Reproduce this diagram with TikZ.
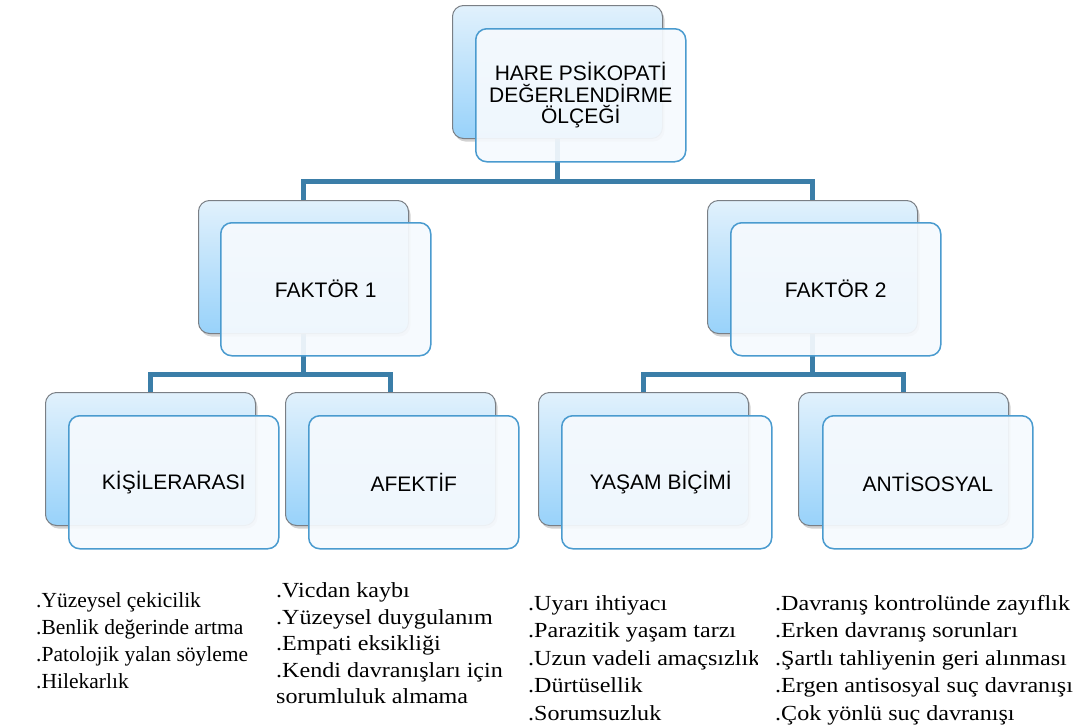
\documentclass[tikz,border=0pt]{standalone}
\usepackage{fontspec}
\setmainfont{Liberation Serif}
\newfontfamily\arialf{Liberation Sans}
\newfontfamily\stretchf[FakeStretch=1.12]{Liberation Serif}
\usetikzlibrary{shadows}
\pgfdeclarelayer{bg}
\pgfsetlayers{bg,main}
\definecolor{backtop}{HTML}{E1F1FC}
\definecolor{backbot}{HTML}{98D2FA}
\definecolor{backedge}{HTML}{7A7F85}
\definecolor{frontfill}{HTML}{F6FAFE}
\definecolor{frontedge}{HTML}{4A9BCF}
\definecolor{connc}{HTML}{3B7EA8}
\tikzset{
  backbox/.style={rectangle, rounded corners=11pt, minimum width=210pt, minimum height=133pt,
    top color=backtop, bottom color=backbot, draw=backedge, line width=1pt, anchor=north west,
    drop shadow={shadow xshift=2pt, shadow yshift=-3pt, opacity=0.35}},
  frontbox/.style={rectangle, rounded corners=11pt, minimum width=210pt, minimum height=133pt,
    fill=frontfill, fill opacity=0.92, text opacity=1, draw=frontedge, line width=1.5pt,
    anchor=north west, font=\arialf\fontsize{21}{21.5}\selectfont, align=center, inner sep=0pt},
  conn/.style={draw=connc, line width=5pt},
  item/.style={anchor=base west, inner sep=0pt, font=\fontsize{21.5}{26}\selectfont},
  itemw/.style={anchor=base west, inner sep=0pt, font=\stretchf\fontsize{21.5}{26}\selectfont},
}
\begin{document}
\begin{tikzpicture}[x=1pt, y=-1pt]
\begin{pgfonlayer}{bg}
  \fill[white] (0,0) rectangle (1082,726);
\end{pgfonlayer}
\path[use as bounding box] (0,0) rectangle (1082,726);

% boxes
\node[backbox] (b0) at (452,5) {};
\node[frontbox] (f0) at (475,28) {HARE PSİKOPATİ\\DEĞERLENDİRME\\ÖLÇEĞİ};
\node[backbox] (b1) at (198,200) {};
\node[frontbox] (f1) at (220,222) {FAKTÖR 1};
\node[backbox] (b2) at (707,200) {};
\node[frontbox] (f2) at (730,222) {FAKTÖR 2};
\node[backbox] (b3) at (45,392) {};
\node[frontbox] (f3) at (68,415) {KİŞİLERARASI};
\node[backbox] (b4) at (285,392) {};
\node[frontbox] (f4) at (308,415) {AFEKTİF};
\node[backbox] (b5) at (538,392) {};
\node[frontbox] (f5) at (561,415) {YAŞAM BİÇİMİ\hspace*{12pt}};
\node[backbox] (b6) at (798,392) {};
\node[frontbox] (f6) at (822,415) {ANTİSOSYAL};

% connectors
\begin{pgfonlayer}{bg}
  \draw[conn] (b0.south) -- ++(0,42) -| (b1.north);
  \draw[conn] (b0.south) -- ++(0,42) -| (b2.north);
  \draw[conn] (b1.south) -- ++(0,40) -| (b3.north);
  \draw[conn] (b1.south) -- ++(0,40) -| (b4.north);
  \draw[conn] (b2.south) -- ++(0,40) -| (b5.north);
  \draw[conn] (b2.south) -- ++(0,40) -| (b6.north);
\end{pgfonlayer}

% lists
\node[item] (c1a) at (36,607) {.Yüzeysel çekicilik};
\node[item] (c1b) at (36,634) {.Benlik değerinde artma};
\node[item] (c1c) at (36,661) {.Patolojik yalan söyleme};
\node[item] (c1d) at (36,688) {.Hilekarlık};

\node[itemw] (c2a) at (276,597.5) {.Vicdan kaybı};
\node[itemw] (c2b) at (276,624) {.Yüzeysel duygulanım};
\node[itemw] (c2c) at (276,650.5) {.Empati eksikliği};
\node[itemw] (c2d) at (276,677) {.Kendi davranışları için};
\node[itemw] (c2e) at (276,703.5) {sorumluluk almama};

\begin{scope}
  \clip (0,560) rectangle (757,726);
  \node[itemw] (c3a) at (528,610) {.Uyarı ihtiyacı};
  \node[itemw] (c3b) at (528,637.5) {.Parazitik yaşam tarzı};
  \node[itemw] (c3c) at (528,665) {.Uzun vadeli amaçsızlık};
  \node[itemw] (c3d) at (528,692.5) {.Dürtüsellik};
  \node[itemw] (c3e) at (528,720) {.Sorumsuzluk};
\end{scope}

\node[itemw] (c4a) at (775,610) {.Davranış kontrolünde zayıflık};
\node[itemw] (c4b) at (775,637.5) {.Erken davranış sorunları};
\node[itemw] (c4c) at (775,665) {.Şartlı tahliyenin geri alınması};
\node[itemw] (c4d) at (775,692.5) {.Ergen antisosyal suç davranışı};
\node[itemw] (c4e) at (775,720) {.Çok yönlü suç davranışı};
\end{tikzpicture}
\end{document}
